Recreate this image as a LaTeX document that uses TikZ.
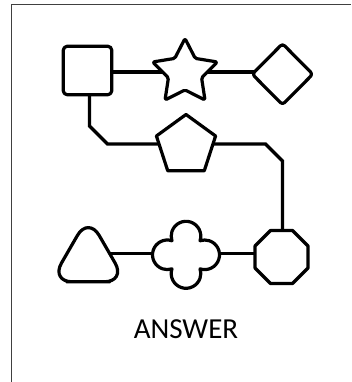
\documentclass[tikz,border=0pt]{standalone}
\usepackage{fontspec}
\setmainfont{Carlito}
\usetikzlibrary{shapes.geometric,backgrounds}
\definecolor{framegray}{HTML}{404040}
\tikzset{
  shp/.style={draw=black, line width=3.2pt, fill=white, inner sep=0pt, outer sep=0pt, line join=round},
  conn/.style={draw=black, line width=3.2pt},
  framestyle/.style={draw=framegray, line width=1.3pt}
}
\begin{document}
\begin{tikzpicture}[x=1pt,y=-1pt]
\useasboundingbox (0,0) rectangle (351,382);
% frame
\coordinate (f1) at (11.7,382);
\coordinate (f2) at (11.7,4.7);
\coordinate (f3) at (351,4.7);
\draw[framestyle] (f1) -- (f2) -- (f3);
% top row
\node[shp, rectangle, rounded corners=4pt, minimum size=48.5pt] (sq) at (87.5,70.5) {};
\node[shp, star, star points=5, star point ratio=1.95, minimum size=68pt, rounded corners=1.5pt] (star) at (185,72.5) {};
\node[shp, diamond, minimum width=60.5pt, minimum height=61pt, rounded corners=3pt] (dia) at (282.5,74.2) {};
% middle
\node[shp, regular polygon, regular polygon sides=5, minimum size=62.2pt] (pent) at (186,145.6) {};
% bottom
\node[shp, regular polygon, regular polygon sides=8, minimum size=57.4pt] (oct) at (281.5,257) {};
\node[circle, inner sep=0pt, minimum size=67pt] (cloud) at (186,254.8) {};
\coordinate (tri) at (88.3,253.5);
\filldraw[shp, rounded corners=21.7pt] (88.3,281.8) -- (50.65,281.8) -- (88.3,216.6) -- (125.95,281.8) -- cycle;
\begin{scope}[shift={(cloud.center)}, yscale=-1]
\filldraw[shp] (14.05,14.05) arc[start angle=-18.3, end angle=198.3, radius=14.8]
  arc[start angle=71.7, end angle=288.3, radius=14.8]
  arc[start angle=161.7, end angle=378.3, radius=14.8]
  arc[start angle=251.7, end angle=468.3, radius=14.8] -- cycle;
\end{scope}
% elbow coordinates
\coordinate (ty) at (0,72);
\coordinate (a1) at (89.5,126);
\coordinate (a2) at (107.5,144);
\coordinate (b1) at (265.5,144);
\coordinate (b2) at (282.5,161);
\coordinate (hy) at (0,253.5);
\begin{scope}[on background layer]
\draw[conn] (sq.center |- ty) -- (dia.center |- ty);
\draw[conn] (sq.center -| a1) -- (a1) -- (a2) -- (pent.center |- a2);
\draw[conn] (pent.center |- b1) -- (b1) -- (b2) -- (oct.center -| b2);
\draw[conn] (tri |- hy) -- (oct.center |- hy);
\end{scope}
% label
\node[inner sep=0pt, font=\fontsize{29}{29}\selectfont] (ans) at (186,329) {ANSWER};
\end{tikzpicture}
\end{document}
